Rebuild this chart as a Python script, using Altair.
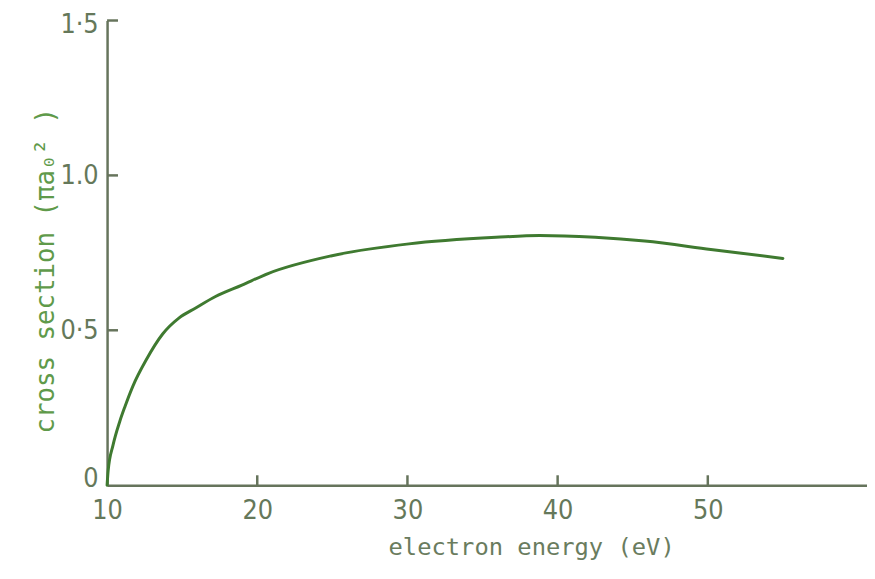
import altair as alt
import pandas as pd

# curve
energy = [10.0, 10.07, 10.4, 10.84, 11.2, 11.72, 12.6, 13.7, 14.8, 15.9, 17.22, 18.98, 20.76,
          24.9, 30.1, 35.9, 38.8, 42.5, 45.8, 50.2, 55.0]
cross = [0.0, 0.046, 0.130, 0.205, 0.255, 0.320, 0.404, 0.488, 0.540, 0.572, 0.609, 0.646, 0.684,
         0.740, 0.779, 0.800, 0.806, 0.800, 0.788, 0.761, 0.732]

x_ticks = [10, 20, 30, 40, 50]
x_inner_ticks = [20, 30, 40, 50]
y_ticks = [0, 0.5, 1.0, 1.5]
y_tick_labels = ["0", "0·5", "1.0", "1·5"]
y_inner_ticks = [0.5, 1.0, 1.5]

W, H = 767, 469
FONT = "DejaVu Sans Mono"
LFONT = "'Liberation Sans Narrow', 'DejaVu Sans Condensed', sans-serif"
LABEL_C = "#65785a"
AXIS_C = "#66745c"

curve = pd.DataFrame({"energy": energy, "cross": cross})
xt = pd.DataFrame({"energy": x_inner_ticks})
yt = pd.DataFrame({"cross": y_inner_ticks})

xscale = alt.Scale(domain=[10, 60.6], nice=False, zero=False)
yscale = alt.Scale(domain=[0, 1.5], nice=False)

label_expr = "[" + ",".join("'" + s + "'" for s in y_tick_labels) + "][round(datum.value*2)]"

line = alt.Chart(curve).mark_line(
    color="#3f7a30", strokeWidth=3, interpolate="monotone", strokeCap="round"
).encode(
    x=alt.X("energy:Q", scale=xscale, axis=alt.Axis(
        values=x_ticks, ticks=False, grid=False, domainColor=AXIS_C, domainWidth=2.5,
        labelFont=LFONT, labelFontSize=27, labelColor=LABEL_C, labelPadding=13,
        labelFlush=False, labelAlign="center",
        title="electron energy (eV)", titleFont=FONT, titleFontSize=24,
        titleFontWeight="normal", titleColor="#6a7c5e",
        titleX=428, titleY=70, titleAlign="center", titleBaseline="alphabetic")),
    y=alt.Y("cross:Q", scale=yscale, axis=alt.Axis(
        values=y_ticks, ticks=False, grid=False, domainColor=AXIS_C, domainWidth=2.5,
        labelFont=LFONT, labelFontSize=27, labelColor=LABEL_C, labelPadding=9,
        labelExpr=label_expr, labelFlush=False, labelBaseline="middle",
        labelOffset={"expr": "datum.value == 0 ? -7 : (datum.value == 1.5 ? 4 : 0)"},
        title="cross section (πa₀² )", titleFont=FONT, titleFontSize=26,
        titleFontWeight="normal", titleColor="#5f9a4a", titleAngle=270,
        titleX=-54, titleY=252, titleAlign="center", titleBaseline="alphabetic")),
)

xticks = alt.Chart(xt).mark_rule(color=AXIS_C, strokeWidth=2.5).encode(
    x=alt.X("energy:Q", scale=xscale), y=alt.value(H - 10), y2=alt.value(H)
)
yticks = alt.Chart(yt).mark_rule(color=AXIS_C, strokeWidth=2.5).encode(
    y=alt.Y("cross:Q", scale=yscale), x=alt.value(0), x2=alt.value(11)
)

chart = alt.layer(line, xticks, yticks).properties(
    width=W, height=H, background="white",
    autosize=alt.AutoSizeParams(type="none"),
    padding={"left": 100, "top": 10, "right": 0, "bottom": 85},
).configure_view(strokeWidth=0)

chart.save("out.html", embed_options={"renderer": "svg", "actions": False})
